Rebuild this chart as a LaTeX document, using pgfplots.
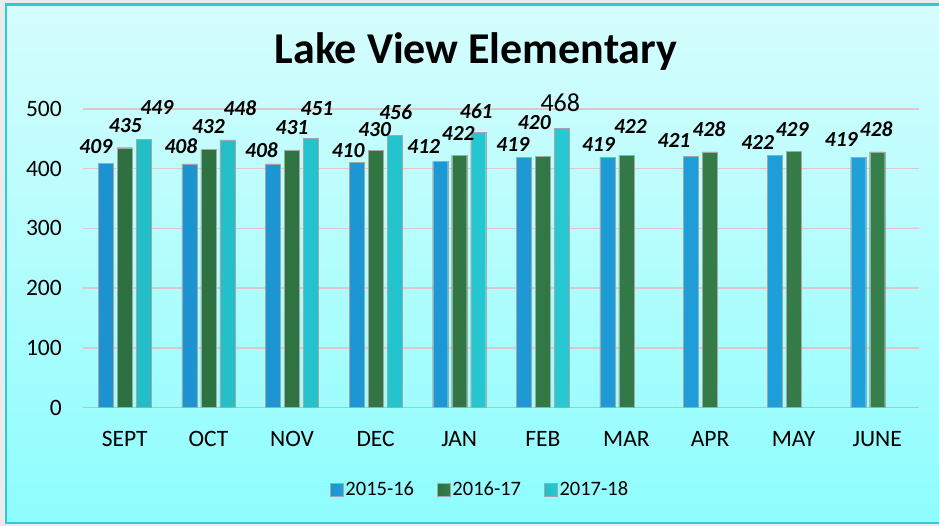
\documentclass[border=0pt]{standalone}
\usepackage{fontspec}
\setmainfont{Carlito}
\usepackage{pgfplots}
\usepackage{pgfplotstable}
\pgfplotsset{compat=1.18}

\definecolor{bgtop}{HTML}{D6FDFD}
\definecolor{bgbot}{HTML}{8EFDFD}
\definecolor{frame}{HTML}{2FCBD5}
\definecolor{gridc}{HTML}{DEC6CA}
\definecolor{bluL}{HTML}{1C92D0}
\definecolor{bluM}{HTML}{38C0F2}
\definecolor{bluR}{HTML}{1EA0DA}
\definecolor{grnL}{HTML}{2E7040}
\definecolor{grnM}{HTML}{4C9C5E}
\definecolor{grnR}{HTML}{367E4A}
\definecolor{cyaL}{HTML}{22BEC8}
\definecolor{cyaM}{HTML}{46E4EC}
\definecolor{cyaR}{HTML}{26C8D2}

\pgfplotstableread{
x y dx dy
0 409 -10 17
1 408 -8.5 17.5
2 408 -11.5 13.5
3 410 -8.5 12
4 412 -16.5 15
5 419 -11 13.3
6 419 -9 13.3
7 421 -17 15.4
8 422 -17 13.2
9 419 -17 17.6
}\blue

\pgfplotstableread{
x y dx dy
0 435 0.5 22.4
1 432 0 22.5
2 431 0 22.1
3 430 -1 21.5
4 422 -1 22.5
5 420 -8.5 34.4
6 422 4 29.2
7 428 -1 22.9
8 429 -1.5 22.3
9 428 -1 22.9
}\green

\pgfplotstableread{
x y dx dy
0 449 13 32
1 448 12.5 32
2 451 6 29.2
3 456 1 22.5
4 461 -2 21
5 468 -1.5 25
}\cyan

\begin{document}
\begin{tikzpicture}[x=1pt,y=1pt]
\useasboundingbox (0,0) rectangle (939,526);
\fill[black!8] (0,0) rectangle (939,526);
\shade[top color=bgtop, bottom color=bgbot] (5,2) rectangle (945,522);
\draw[frame, line width=2.5pt] (6,3) rectangle (950,521.5);
\node[font=\bfseries\fontsize{44}{52}\selectfont] at (476,474) {Lake View Elementary};
\begin{axis}[
  at={(83pt,118.5pt)}, anchor=south west,
  scale only axis, width=836pt, height=298.6pt,
  xmin=-0.5, xmax=9.5, ymin=0, ymax=500,
  ybar=4pt, bar width=15pt,
  axis x line*=bottom, axis y line*=left,
  x axis line style={draw=black!25, line width=1.5pt},
  y axis line style={draw=none},
  xtick={0,...,9},
  xticklabels={SEPT,OCT,NOV,DEC,JAN,FEB,MAR,APR,MAY,JUNE},
  ytick={0,100,...,500},
  ymajorgrids, grid style={gridc, line width=1.5pt},
  major tick length=0pt,
  /pgf/number format/assume math mode=true,
  tick label style={font=\fontsize{23.5}{28}\selectfont},
  xticklabel style={inner sep=0pt, anchor=north, yshift=-24pt},
  yticklabel style={inner sep=0pt, anchor=east, xshift=-21pt},
  clip=false,
  point meta=explicit symbolic,
  visualization depends on={\thisrow{dx} \as \dx},
  visualization depends on={\thisrow{dy} \as \dy},
  nodes near coords={\ifnum\pgfplotspointmeta=468 {\fontsize{26}{26}\selectfont 468}\else{\bfseries\itshape\pgfplotspointmeta}\fi},
  nodes near coords style={anchor=center, inner sep=0pt, font=\fontsize{21.5}{22}\selectfont, xshift=\dx pt, yshift=\dy pt},
  legend style={at={(rel axis cs:0.475,-0.275)}, anchor=center, draw=none, fill=none,
    legend columns=3, font=\fontsize{20.5}{24}\selectfont,
    /tikz/every even column/.append style={column sep=21pt}},
  legend image code/.code={\fill[#1] (0pt,-6.5pt) rectangle (13pt,6.5pt);},
]
\addplot[draw=black!35, line width=0.4pt, left color=bluL, middle color=bluM, right color=bluR]
  table[x=x, y=y, meta=y] {\blue};
\addplot[draw=black!35, line width=0.4pt, left color=grnL, middle color=grnM, right color=grnR]
  table[x=x, y=y, meta=y] {\green};
\addplot[draw=black!35, line width=0.4pt, left color=cyaL, middle color=cyaM, right color=cyaR]
  table[x=x, y=y, meta=y] {\cyan};
\legend{2015-16,2016-17,2017-18}
\end{axis}
\end{tikzpicture}
\end{document}
